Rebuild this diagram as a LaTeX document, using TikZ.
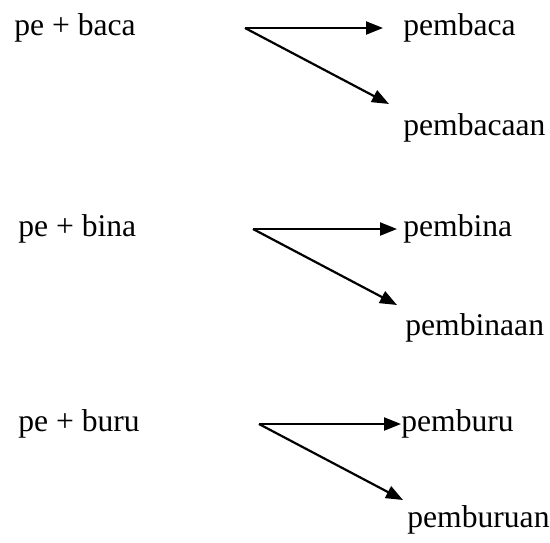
\documentclass[tikz,border=0pt]{standalone}
\usepackage{fontspec}
\setmainfont{Liberation Serif}
\usetikzlibrary{arrows.meta}

\tikzset{
  word/.style={anchor=base west,inner sep=0pt,font=\fontsize{15.8pt}{19pt}\selectfont},
  derive/.style={line width=1.1pt,-{Triangle[length=8.5pt,width=6.5pt]}}
}

\begin{document}
\begin{tikzpicture}[x=0.5pt,y=-0.5pt]
    \useasboundingbox (0,0) rectangle (550,542);

    \node[word] (baca) at (14, 35) {pe + baca};
    \node[word] (pembaca) at (403, 35) {pembaca};
    \node[word] (pembacaan) at (403, 135) {pembacaan};
    \coordinate (s1) at (245, 28);
    \coordinate (h1) at (383, 28);
    \coordinate (d1) at (389, 104);
    \draw[derive] (s1) -- (h1);
    \draw[derive] (s1) -- (d1);

    \node[word] (bina) at (18, 236) {pe + bina};
    \node[word] (pembina) at (403, 236) {pembina};
    \node[word] (pembinaan) at (405, 335) {pembinaan};
    \coordinate (s2) at (253, 229);
    \coordinate (h2) at (397, 229);
    \coordinate (d2) at (397, 305);
    \draw[derive] (s2) -- (h2);
    \draw[derive] (s2) -- (d2);

    \node[word] (buru) at (18, 431) {pe + buru};
    \node[word] (pemburu) at (401, 431) {pemburu};
    \node[word] (pemburuan) at (407, 527) {pemburuan};
    \coordinate (s3) at (259, 424);
    \coordinate (h3) at (401, 424);
    \coordinate (d3) at (403, 500);
    \draw[derive] (s3) -- (h3);
    \draw[derive] (s3) -- (d3);
  \end{tikzpicture}
\end{document}
